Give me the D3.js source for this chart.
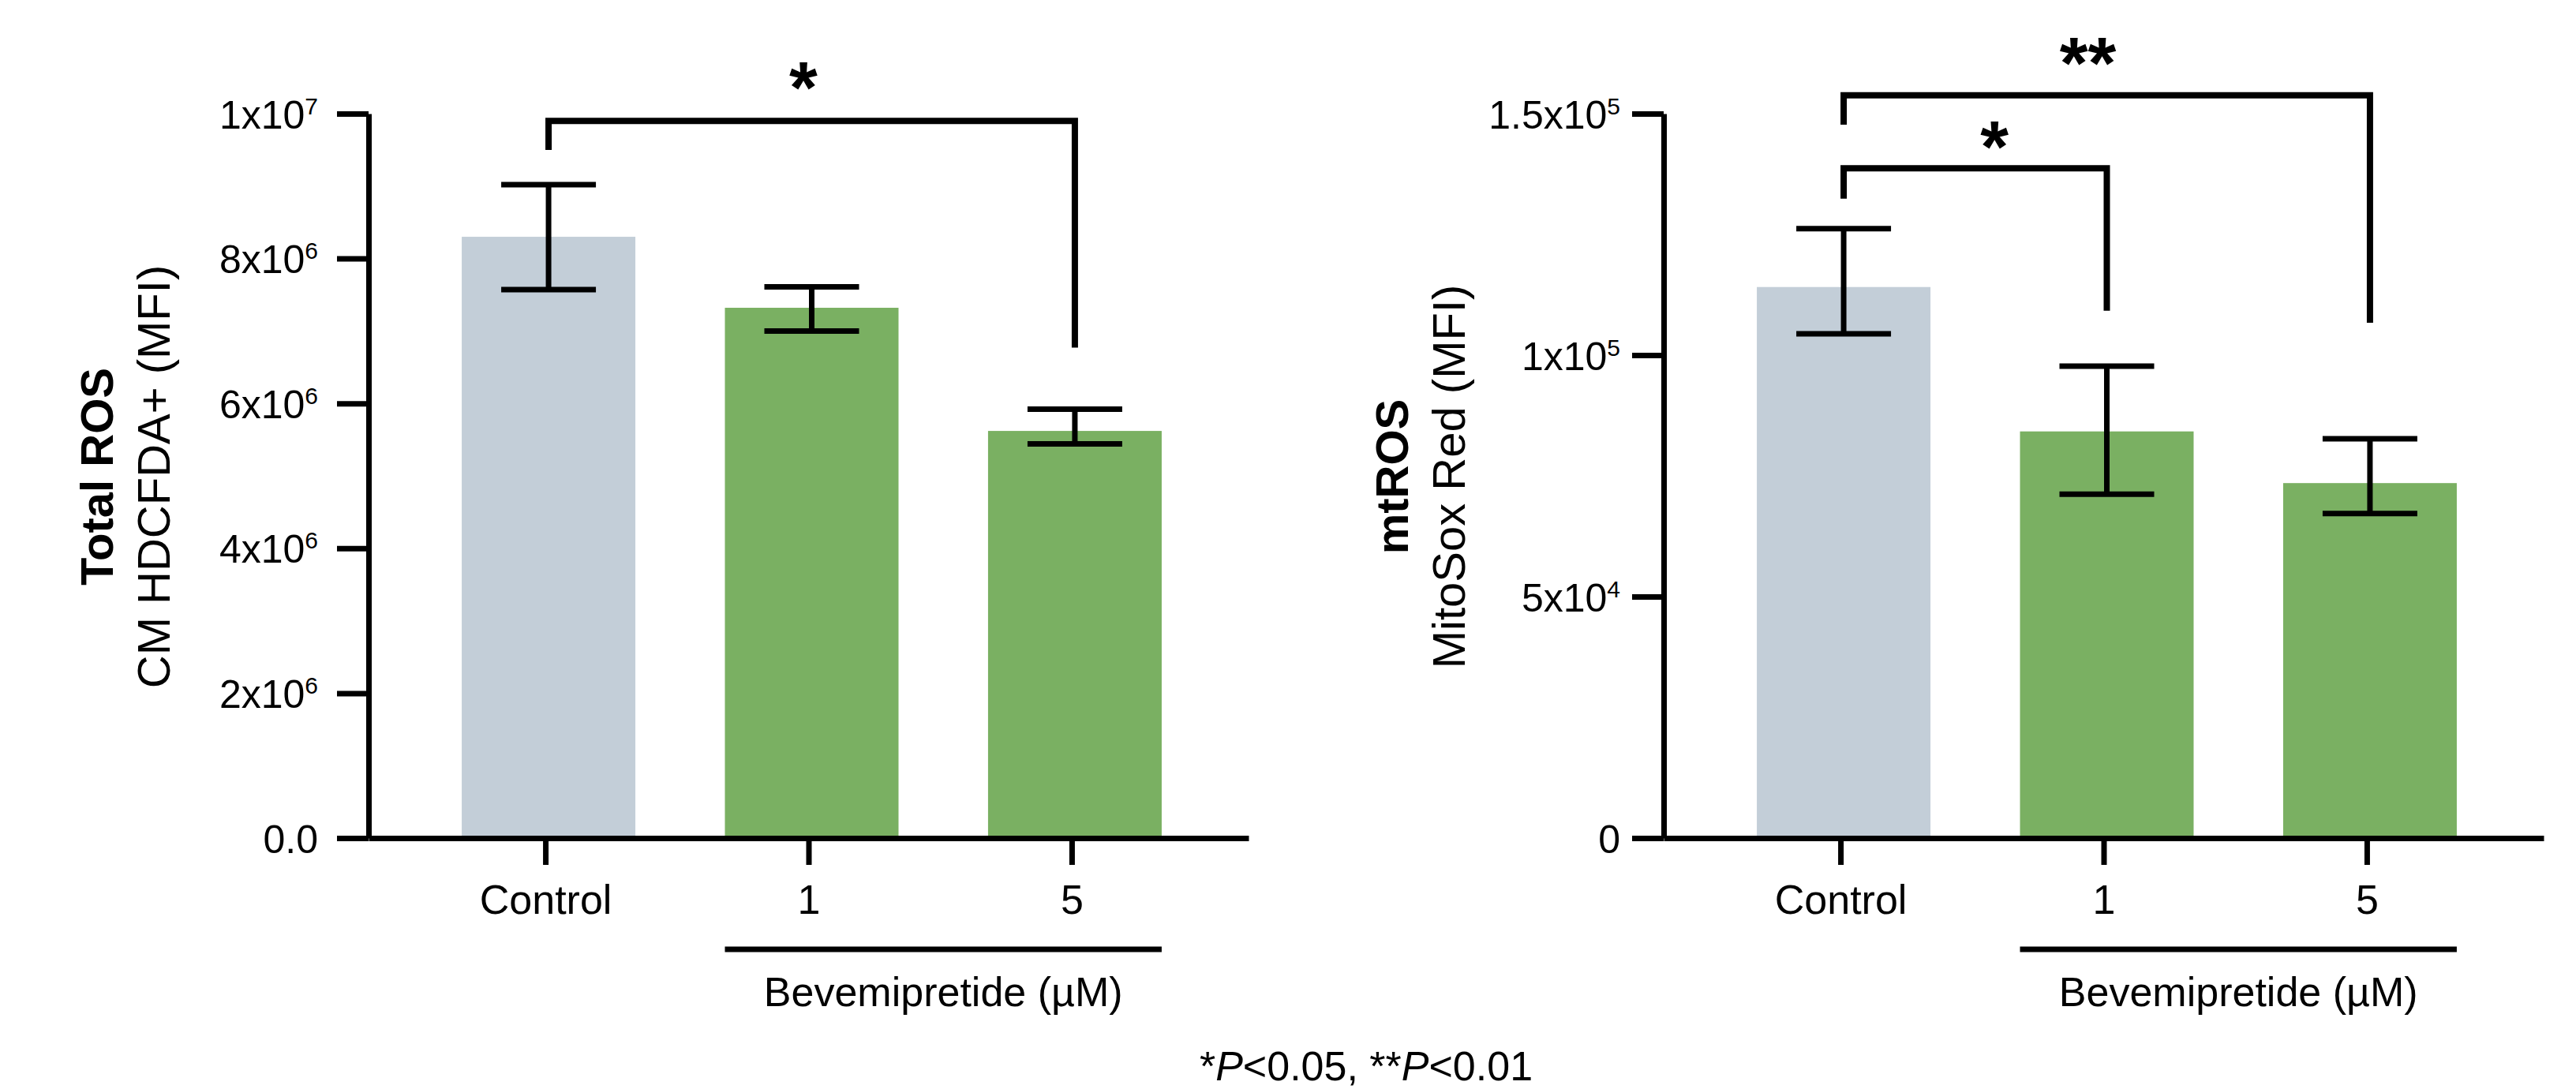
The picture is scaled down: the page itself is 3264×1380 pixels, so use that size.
<!DOCTYPE html>
<html>
<head>
<meta charset="utf-8">
<script src="https://cdnjs.cloudflare.com/ajax/libs/d3/7.8.5/d3.min.js"></script>
<style>
  body { margin: 0; background: #fff; }
  svg { display: block; font-family: "Liberation Sans", Arial, sans-serif; }
  .axis path, .axis line { stroke: #000; stroke-width: 7; }
  .axis text { fill: #000; }
</style>
</head>
<body>
<script>
// groups on the x axis
var groups = ["Control", "1", "5"];

// Total ROS (CM HDCFDA+ MFI)
var rosMean = [8.30e6, 7.32e6, 5.62e6];
var rosHigh = [9.02e6, 7.61e6, 5.92e6];
var rosLow  = [7.57e6, 7.00e6, 5.44e6];
var rosTicks   = [0, 2e6, 4e6, 6e6, 8e6, 1e7];
var rosTickTxt = ["0.0", "2x10", "4x10", "6x10", "8x10", "1x10"];
var rosTickExp = ["", "6", "6", "6", "6", "7"];
// significance brackets: from, to, top, leg ends, star, where along, star centre
var rosBrackets = [
  {from: 0, to: 2, top: 9.90e6, endA: 9.50e6, endB: 6.77e6, label: "*", at: 0.49, labelY: 10.57e6}
];

// mtROS (MitoSox Red MFI)
var mtMean = [114.1e3, 84.2e3, 73.5e3];
var mtHigh = [126.2e3, 97.7e3, 82.7e3];
var mtLow  = [104.4e3, 71.2e3, 67.2e3];
var mtTicks   = [0, 5e4, 1e5, 1.5e5];
var mtTickTxt = ["0", "5x10", "1x10", "1.5x10"];
var mtTickExp = ["", "4", "5", "5"];
var mtBrackets = [
  {from: 0, to: 1, top: 138.7e3, endA: 132.4e3, endB: 109.2e3, label: "*", at: 0.585, labelY: 146.3e3},
  {from: 0, to: 2, top: 153.8e3, endA: 147.7e3, endB: 106.7e3, label: "**", at: 0.47, labelY: 163.7e3}
];

var W = 3264, H = 1380;
var svg = d3.select("body").append("svg")
    .attr("width", W)
    .attr("height", H);

var plotW = 1115, y0 = 1062, yTop = 144;
var barW = 220, capW = 120, barShift = 4;
var fill = d3.scaleOrdinal().domain(groups).range(["#c3ced8", "#7ab062", "#7ab062"]);

function drawPanel(left, mean, high, low, ticks, tickTxt, tickExp, brackets, title, subtitle, tickPad) {
  var g = svg.append("g").attr("transform", "translate(" + left + ",0)");

  var x = d3.scalePoint()
      .domain(groups)
      .range([0, plotW])
      .padding(0.672)
      .align(0.5);

  var y = d3.scaleLinear()
      .domain([0, ticks[ticks.length - 1]])
      .range([y0, yTop]);

  var rows = groups.map(function(d, i) {
    return {g: d, mean: mean[i], hi: high[i], lo: low[i]};
  });
  var cx = function(d) { return x(d.g) + barShift; };

  // bars
  g.selectAll("rect.bar")
    .data(rows)
    .enter().append("rect")
    .attr("class", "bar")
    .attr("x", function(d) { return cx(d) - barW / 2; })
    .attr("y", function(d) { return y(d.mean); })
    .attr("width", barW)
    .attr("height", function(d) { return y(0) - y(d.mean); })
    .attr("fill", function(d) { return fill(d.g); });

  // error bars
  var eb = g.selectAll("g.err")
    .data(rows)
    .enter().append("g")
    .attr("class", "err")
    .attr("stroke", "#000")
    .attr("stroke-width", 7);
  eb.append("line")
    .attr("x1", cx)
    .attr("x2", cx)
    .attr("y1", function(d) { return y(d.hi); })
    .attr("y2", function(d) { return y(d.lo); });
  eb.append("line")
    .attr("x1", function(d) { return cx(d) - capW / 2; })
    .attr("x2", function(d) { return cx(d) + capW / 2; })
    .attr("y1", function(d) { return y(d.hi); })
    .attr("y2", function(d) { return y(d.hi); });
  eb.append("line")
    .attr("x1", function(d) { return cx(d) - capW / 2; })
    .attr("x2", function(d) { return cx(d) + capW / 2; })
    .attr("y1", function(d) { return y(d.lo); })
    .attr("y2", function(d) { return y(d.lo); });

  // y axis
  var ya = g.append("g")
      .attr("class", "axis")
      .call(d3.axisLeft(y)
        .tickValues(ticks)
        .tickSize(40)
        .tickSizeOuter(0)
        .tickPadding(tickPad)
        .tickFormat(function() { return ""; }));
  ya.selectAll(".tick text")
    .attr("dy", "0.36em")
    .style("font-size", "50px")
    .each(function(d, i) {
      var t = d3.select(this);
      t.append("tspan").text(tickTxt[i]);
      if (tickExp[i]) {
        t.append("tspan")
          .attr("dy", -18)
          .style("font-size", "30px")
          .text(tickExp[i]);
      }
    });

  // x axis
  var xa = g.append("g")
      .attr("class", "axis")
      .attr("transform", "translate(0," + y0 + ")")
      .call(d3.axisBottom(x)
        .tickSize(34)
        .tickSizeOuter(0)
        .tickPadding(25));
  xa.selectAll(".tick text").style("font-size", "52px");

  // treatment bar + label
  g.append("line")
    .attr("x1", x(groups[1]) + barShift - barW / 2)
    .attr("x2", x(groups[2]) + barShift + barW / 2)
    .attr("y1", 1203)
    .attr("y2", 1203)
    .attr("stroke", "#000")
    .attr("stroke-width", 7);
  g.append("text")
    .attr("x", (x(groups[1]) + x(groups[2])) / 2 + barShift)
    .attr("y", 1275)
    .attr("text-anchor", "middle")
    .style("font-size", "52px")
    .text("Bevemipretide (\u00b5M)");

  // y titles
  g.append("text")
    .attr("transform", "translate(-324,604) rotate(-90)")
    .attr("text-anchor", "middle")
    .style("font-size", "58px")
    .style("font-weight", "bold")
    .text(title);
  g.append("text")
    .attr("transform", "translate(-252,604) rotate(-90)")
    .attr("text-anchor", "middle")
    .style("font-size", "58px")
    .text(subtitle);

  // significance brackets
  var br = g.selectAll("g.bracket")
    .data(brackets)
    .enter().append("g")
    .attr("class", "bracket");
  br.append("path")
    .attr("fill", "none")
    .attr("stroke", "#000")
    .attr("stroke-width", 8)
    .attr("d", function(d) {
      var xa = x(groups[d.from]) + barShift, xb = x(groups[d.to]) + barShift;
      return "M" + xa + "," + y(d.endA) + "V" + y(d.top) + "H" + xb + "V" + y(d.endB);
    });
  br.append("text")
    .attr("x", function(d) {
      var xa = x(groups[d.from]), xb = x(groups[d.to]);
      return xa + (xb - xa) * d.at;
    })
    .attr("y", function(d) { return y(d.labelY); })
    .attr("dy", "0.56em")
    .attr("text-anchor", "middle")
    .style("font-size", "92px")
    .style("font-weight", "bold")
    .text(function(d) { return d.label; });
}

drawPanel(467, rosMean, rosHigh, rosLow, rosTicks, rosTickTxt, rosTickExp, rosBrackets,
  "Total ROS", "CM HDCFDA+ (MFI)", 24);
drawPanel(2108, mtMean, mtHigh, mtLow, mtTicks, mtTickTxt, mtTickExp, mtBrackets,
  "mtROS", "MitoSox Red (MFI)", 15);

// footnote
var foot = svg.append("text")
    .attr("x", 1731)
    .attr("y", 1369)
    .attr("text-anchor", "middle")
    .style("font-size", "52px");
foot.append("tspan").text("*");
foot.append("tspan").style("font-style", "italic").text("P");
foot.append("tspan").text("<0.05, **");
foot.append("tspan").style("font-style", "italic").text("P");
foot.append("tspan").text("<0.01");
</script>
</body>
</html>
